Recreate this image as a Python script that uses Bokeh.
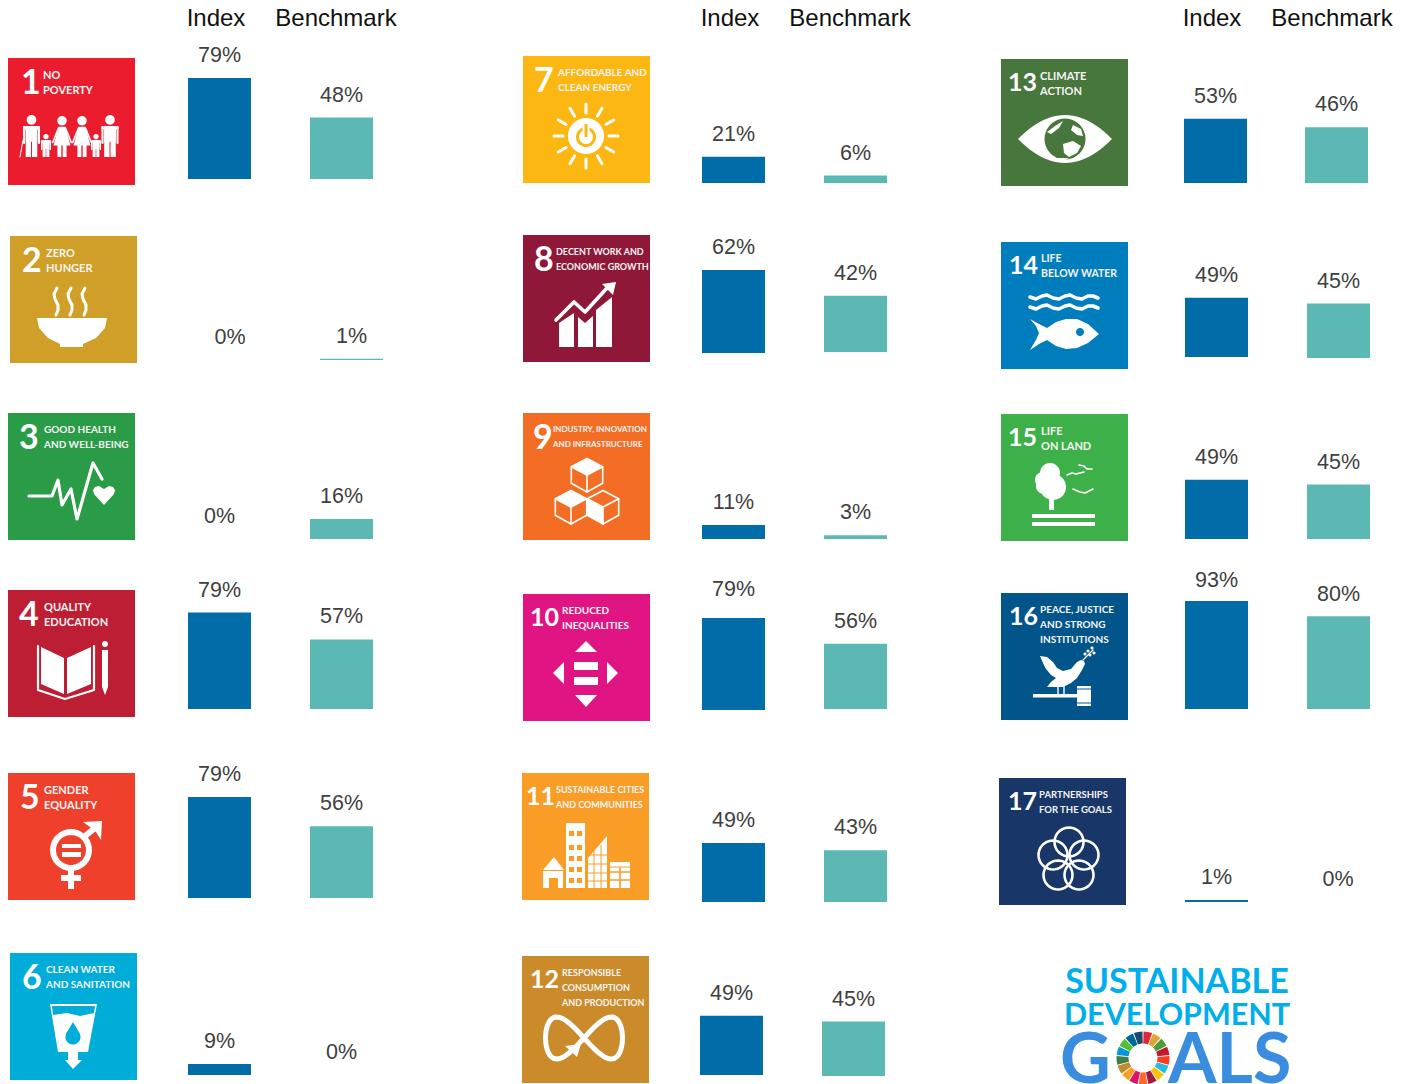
import math
from bokeh.embed import file_html
from bokeh.models import Range1d
from bokeh.plotting import figure
from bokeh.resources import INLINE
from bokeh.core.properties import value

# ---- chart values -------------------------------------------------------
goal_numbers = list(range(1, 18))
goal_titles = [
    ["NO", "POVERTY"], ["ZERO", "HUNGER"], ["GOOD HEALTH", "AND WELL-BEING"],
    ["QUALITY", "EDUCATION"], ["GENDER", "EQUALITY"], ["CLEAN WATER", "AND SANITATION"],
    ["AFFORDABLE AND", "CLEAN ENERGY"], ["DECENT WORK AND", "ECONOMIC GROWTH"],
    ["INDUSTRY, INNOVATION", "AND INFRASTRUCTURE"], ["REDUCED", "INEQUALITIES"],
    ["SUSTAINABLE CITIES", "AND COMMUNITIES"],
    ["RESPONSIBLE", "CONSUMPTION", "AND PRODUCTION"], ["CLIMATE", "ACTION"],
    ["LIFE", "BELOW WATER"], ["LIFE", "ON LAND"],
    ["PEACE, JUSTICE", "AND STRONG", "INSTITUTIONS"], ["PARTNERSHIPS", "FOR THE GOALS"],
]
index_values = [79, 0, 0, 79, 79, 9, 21, 62, 11, 79, 49, 49, 53, 49, 49, 93, 1]
benchmark_values = [48, 1, 16, 57, 56, 0, 6, 42, 3, 56, 43, 45, 46, 45, 45, 80, 0]
series_names = ["Index", "Benchmark"]

# ---- page layout, in pixels ---------------------------------------------
W, H = 1412, 1084
PIXEL_SHIFT = 0.5
tile_left = [8, 10, 8, 8, 8, 10, 523, 523, 523, 523, 522, 522, 1001, 1001, 1001, 1001, 999]
tile_top = [58, 236, 413, 590, 773, 953, 56, 235, 413, 594, 773, 956, 59, 242, 414, 593, 778]
index_x = [219.5, 230, 219.5, 219.5, 219.5, 219.5, 733.5, 733.5, 733.5, 733.5, 733.5, 731.5,
           1215.5, 1216.5, 1216.5, 1216.5, 1216.5]
bench_x = [341.5, 351.5, 341.5, 341.5, 341.5, 341.5, 855.5, 855.5, 855.5, 855.5, 855.5, 853.5,
           1336.5, 1338.5, 1338.5, 1338.5, 1338]
index_base = [179, 360, 539, 709, 898, 1075, 183, 353, 539, 710, 902, 1075, 183, 357, 539, 709, 902]
bench_base = [179, 360, 539, 709, 898, 1075, 183, 352, 539, 709, 902, 1076, 183, 358, 539, 709, 902]
px_per_pct = [1.28, 1.2, 1.25, 1.22, 1.28, 1.22, 1.25, 1.34, 1.28, 1.165, 1.205, 1.21,
              1.21, 1.21, 1.21, 1.16, 2.0]
index_gap = [23, 23, 23, 23, 23, 23, 23, 23, 23, 29, 23, 23, 23, 23, 23, 21, 23]
bench_gap = [23, 23, 23, 23, 23, 23, 23, 23, 23, 23, 23, 23, 23, 23, 23, 22, 23]
title_x = [35, 36, 36, 36, 36, 36, 35, 33, 30, 39, 34, 40, 39, 40, 40, 39, 40]
title_px = [11, 11, 10, 11, 11, 10, 10, 9, 8, 10, 9, 9, 11, 10.5, 11, 10, 9.5]
number_x = [13, 12, 11, 11, 12, 12, 11, 11, 10, 7, 4, 8, 7, 8, 7, 8, 9]
number_px = [34, 34, 34, 34, 34, 34, 34, 34, 34, 25, 25, 25, 25, 25, 25, 25, 25]
header_x = [(216, 336), (730, 850), (1212, 1332)]

# ---- styles -------------------------------------------------------------
tile_colors = ["#EB1C2D", "#CF9F27", "#2A9B47", "#BE1E33", "#EF402B", "#00ADD8", "#FDB713",
               "#8F1838", "#F36D25", "#E01483", "#F99D26", "#CB8B2A", "#48773E", "#007DBC",
               "#3EB049", "#02558B", "#183668"]
wheel_colors = ["#E5243B", "#DDA63A", "#4C9F38", "#C5192D", "#FF3A21", "#26BDE2", "#FCC30B",
                "#A21942", "#FD6925", "#DD1367", "#FD9D24", "#BF8B2E", "#3F7E44", "#0A97D9",
                "#56C02B", "#00689D", "#19486A"]
INDEX_COLOR, BENCH_COLOR = "#006CA8", "#5CB8B2"
WHITE = "#FFFFFF"
SANS = value("Liberation Sans")
TILE_FONT = value("Lato")

p = figure(width=W, height=H, x_range=Range1d(PIXEL_SHIFT, W + PIXEL_SHIFT),
           y_range=Range1d(H + PIXEL_SHIFT, PIXEL_SHIFT),
           x_axis_type=None, y_axis_type=None, toolbar_location=None,
           output_backend="svg", min_border=0, outline_line_color=None)
p.grid.visible = False


class Tile:
    """Drawing helpers in coordinates local to a goal tile (127 units wide)."""

    def __init__(self, ox, oy, color):
        self.ox, self.oy, self.color = ox, oy, color

    def poly(self, pts, color=WHITE):
        p.patch([self.ox + a for a, _ in pts], [self.oy + b for _, b in pts],
                fill_color=color, line_color=None)

    def line(self, pts, w=3.0, color=WHITE, cap="round"):
        p.line([self.ox + a for a, _ in pts], [self.oy + b for _, b in pts],
               line_color=color, line_width=w, line_cap=cap, line_join="round")

    def rect(self, x0, y0, x1, y1, color=WHITE):
        self.poly([(x0, y0), (x1, y0), (x1, y1), (x0, y1)], color)

    def disc(self, cx, cy, r, color=WHITE):
        self.poly(circle_pts(cx, cy, r), color)

    def ring(self, cx, cy, r, w, color=WHITE):
        self.line(circle_pts(cx, cy, r) + [(cx + r, cy)], w, color)


def circle_pts(cx, cy, r, n=40):
    return [(cx + r * math.cos(2 * math.pi * i / n), cy + r * math.sin(2 * math.pi * i / n))
            for i in range(n)]


def man(d, cx, top, h, w):
    r = h * 0.115
    d.disc(cx, top + r, r)
    y0 = top + 2.2 * r + 0.5
    d.rect(cx - w * 0.5, y0, cx + w * 0.5, y0 + 3)
    d.rect(cx - w * 0.34, y0, cx + w * 0.34, y0 + (h - 2.2 * r) * 0.5)
    d.rect(cx - w * 0.34, y0, cx - w * 0.03, top + h)
    d.rect(cx + w * 0.03, y0, cx + w * 0.34, top + h)
    d.line([(cx - w * 0.44, y0 + 1), (cx - w * 0.44, y0 + h * 0.4)], w * 0.12)
    d.line([(cx + w * 0.44, y0 + 1), (cx + w * 0.44, y0 + h * 0.4)], w * 0.12)


def woman(d, cx, top, h, w):
    r = h * 0.115
    d.disc(cx, top + r, r)
    y0 = top + 2.2 * r + 0.5
    d.poly([(cx - w * 0.2, y0), (cx + w * 0.2, y0), (cx + w * 0.5, top + h * 0.72), (cx - w * 0.5, top + h * 0.72)])
    d.line([(cx - w * 0.2, y0 + 1), (cx - w * 0.55, y0 + h * 0.38)], 1.6)
    d.line([(cx + w * 0.2, y0 + 1), (cx + w * 0.55, y0 + h * 0.38)], 1.6)
    d.rect(cx - w * 0.27, top + h * 0.7, cx - w * 0.04, top + h)
    d.rect(cx + w * 0.04, top + h * 0.7, cx + w * 0.27, top + h)


def pic_1(d):
    man(d, 23.5, 57, 42, 17)
    d.line([(15, 82), (12, 99)], 1)
    man(d, 38, 76, 23, 10)
    woman(d, 54, 58, 41, 17)
    woman(d, 74, 58, 41, 17)
    man(d, 88, 76, 23, 10)
    man(d, 102, 57, 42, 17)


def pic_2(d):
    d.poly([(27, 82), (97, 82), (95, 92), (86, 102), (73, 108), (73, 111), (50, 111), (50, 108), (38, 102), (29, 92)])
    for x in (45, 59, 73):
        d.line([(x + 2, 52), (x - 1, 58), (x, 63), (x + 3, 69), (x + 3, 74), (x + 1, 79)], 3)


def pic_3(d):
    d.line([(21, 83), (44, 83), (50, 67), (54, 92), (63, 76), (69, 106), (85, 50), (94, 66)], 3.2)
    d.poly([(96, 92), (86, 81), (85, 77), (87, 74), (91, 73), (96, 76), (101, 73), (105, 74), (107, 77), (106, 81)])


def pic_4(d):
    d.poly([(33, 57), (56, 68), (56, 104), (33, 94)])
    d.poly([(59, 68), (83, 57), (83, 94), (59, 104)])
    d.line([(30, 56), (30, 100), (57, 109), (86, 100), (86, 56)], 2.2)
    d.disc(97, 54, 3)
    d.poly([(94, 60), (100, 60), (100, 97), (97, 105), (94, 97)])


def pic_5(d):
    d.ring(63, 77, 18, 6)
    d.rect(54, 71, 73, 75)
    d.rect(54, 79, 73, 84)
    d.line([(76, 64), (88, 54)], 6, cap="butt")
    d.poly([(75, 49), (94, 48), (93, 67), (88, 59), (82, 54)])
    d.rect(60, 95, 66, 116)
    d.rect(53, 102, 73, 108)


def pic_6(d, ):
    d.poly([(40, 51), (87, 51), (78, 99), (48, 99)])
    d.poly([(42, 53), (85, 53), (84, 60), (70, 63), (57, 60), (43, 62)], d.color)
    d.disc(63, 84, 7.5, d.color)
    d.poly([(63, 69), (69.5, 80), (56.5, 80)], d.color)
    d.rect(58, 98, 68, 107)
    d.poly([(55, 107), (72, 107), (63, 116)])


def pic_7(d):
    cx, cy = 63, 80
    d.disc(cx, cy, 18)
    for i in range(12):
        a = 2 * math.pi * i / 12
        d.line([(cx + 23 * math.cos(a), cy + 23 * math.sin(a)),
                (cx + 32 * math.cos(a), cy + 32 * math.sin(a))], 3)
    d.ring(cx, cy + 1, 8.5, 3, d.color)
    d.rect(cx - 3.5, cy - 12, cx + 3.5, cy - 4)
    d.rect(cx - 1.5, cy - 12, cx + 1.5, cy + 1, d.color)


def pic_8(d):
    d.poly([(36, 88), (51, 78), (51, 112), (36, 112)])
    d.poly([(55, 82), (62, 88), (70, 81), (70, 112), (55, 112)])
    d.poly([(73, 75), (89, 62), (89, 112), (73, 112)])
    d.line([(33, 85), (51, 67), (62, 77), (84, 53)], 3.6)
    d.poly([(79, 49), (93, 47), (90, 60)])


def pic_9(d):
    s = 16
    dx = s * 0.98
    dy = s * 0.52

    def cube(cx, cy, face):
        top = (cx, cy - s - 0.5)
        ur, lr = (cx + dx, cy - dy), (cx + dx, cy + dy)
        bot = (cx, cy + s + 1)
        ll, ul = (cx - dx, cy + dy), (cx - dx, cy - dy)
        if face == "top":
            d.poly([top, ur, (cx, cy), ul])
        else:
            d.poly([ul, (cx, cy), bot, ll])
        d.line([top, ur, lr, bot, ll, ul, top], 1.6)
        d.line([ul, (cx, cy), ur], 1.6)
        d.line([(cx, cy), bot], 1.6)

    cube(64, 62, "top")
    cube(48, 94, "top")
    cube(80, 94, "left")


def pic_10(d):
    d.poly([(52, 58), (74, 58), (63, 47)])
    d.poly([(52, 101), (74, 101), (63, 113)])
    d.poly([(41, 68), (41, 90), (30, 79)])
    d.poly([(84, 68), (84, 90), (95, 79)])
    d.rect(51, 68, 75, 76)
    d.rect(51, 83, 75, 91)


def pic_11(d):
    d.poly([(21, 97), (32, 84), (42, 97)])
    d.rect(21, 98, 41, 115)
    d.rect(27, 105, 36, 115, d.color)
    d.rect(44, 50, 63, 115)
    for y in (58, 72, 83, 94, 105):
        d.rect(47, y, 52, y + 5, d.color)
        d.rect(55, y, 60, y + 5, d.color)
    d.poly([(66, 115), (66, 85), (85, 63), (85, 115)])
    for y in (82, 91, 100, 108):
        d.line([(66, y), (85, y)], 1, d.color)
    for x in (72, 79):
        d.line([(x, 78 if x == 72 else 72), (x, 115)], 1, d.color)
    d.rect(88, 89, 108, 115)
    d.line([(88, 94), (108, 94)], 1, d.color)
    for y in (99, 107):
        d.line([(88, y), (108, y)], 1.6, d.color)
    d.line([(98, 95), (98, 115)], 1.6, d.color)


def pic_12(d):
    pts = []
    for i in range(0, 73):
        t = 2 * math.pi * i / 72 + 0.55
        pts.append((62 + 38.5 * math.cos(t), 82 + 42 * math.sin(t) * math.cos(t)))
    d.line(pts, 5)
    d.poly([(43, 90), (59, 88), (55, 101)])


def pic_13(d):
    top = [(17 + i * 94 / 24, 80 - 24 * (1 - ((i - 12) / 12) ** 2)) for i in range(25)]
    bottom = [(111 - i * 94 / 24, 80 + 24 * (1 - ((12 - i) / 12) ** 2)) for i in range(25)]
    d.poly(top + bottom)
    d.disc(64, 80, 20.5, d.color)
    d.poly([(46, 73), (54, 67), (62, 62), (58, 69), (50, 75)])
    d.poly([(62, 85), (72, 82), (80, 87), (76, 94), (68, 98), (63, 94)])
    d.poly([(72, 66), (80, 70), (82, 77), (76, 76), (70, 71)])
    d.poly([(56, 99), (68, 99), (62, 102)])


def pic_14(d):
    for y in (55, 65):
        d.line([(29, y), (35, y + 2), (41, y - 1), (46, y - 2), (52, y + 1), (58, y + 2), (64, y - 1),
                (69, y - 2), (75, y + 1), (81, y + 2), (87, y - 1), (92, y - 1), (97, y + 1)], 3.6)
    d.poly([(29, 77), (38, 82), (46, 86), (55, 80), (65, 77), (76, 77), (87, 82), (98, 92), (87, 101), (76, 106),
            (65, 107), (55, 104), (46, 98), (38, 102), (29, 108), (35, 98), (38, 91), (35, 84)])
    d.disc(79, 90, 4, d.color)


def pic_15(d):
    for cx, cy, r in ((49, 59, 10), (42, 66, 8), (52, 73, 13), (43, 72, 8)):
        d.disc(cx, cy, r)
    d.rect(48, 82, 53, 96)
    d.rect(31, 100, 94, 104)
    d.rect(31, 108, 94, 112)
    for pts in ([(66, 61), (71, 59), (75, 60), (83, 58)],
                [(78, 51), (83, 52), (86, 55), (91, 55)],
                [(72, 75), (79, 78), (84, 79), (92, 75)]):
        d.line(pts, 1.6)


def pic_16(d):
    d.poly([(39, 63), (46, 64), (52, 69), (56, 75), (62, 78), (70, 76), (76, 69), (80, 67), (83, 68), (84, 71),
            (81, 77), (76, 85), (70, 90), (62, 94), (52, 94), (46, 94), (50, 89), (55, 85), (50, 82), (45, 76), (42, 70)])
    d.line([(57, 93), (57, 102)], 1.4)
    d.line([(63, 93), (63, 102)], 1.4)
    d.line([(82, 67), (92, 57)], 1.2)
    for x, y in ((84, 61), (87, 58), (91, 55), (89, 62), (93, 60)):
        d.disc(x, y, 1.5)
    d.rect(32, 101, 77, 104.5)
    d.rect(76, 93, 90, 113)
    d.line([(76, 96), (90, 96)], 1, d.color)
    d.line([(76, 110), (90, 110)], 1, d.color)


def pic_17(d):
    for cx, cy in ((70, 64), (54, 77), (85, 77), (59, 97), (80, 97)):
        d.ring(cx, cy, 14.5, 2.6)


pictograms = [pic_1, pic_2, pic_3, pic_4, pic_5, pic_6, pic_7, pic_8, pic_9, pic_10, pic_11, pic_12,
              pic_13, pic_14, pic_15, pic_16, pic_17]

# ---- goal tiles ---------------------------------------------------------
for i, n in enumerate(goal_numbers):
    x0, y0 = tile_left[i], tile_top[i]
    p.quad(left=[x0], right=[x0 + 127], top=[y0], bottom=[y0 + 127],
           fill_color=tile_colors[i], line_color=None)
    tile = Tile(x0, y0, tile_colors[i])
    pictograms[i](tile)
    p.text(x=[x0 + number_x[i]], y=[y0 + 23], text=[str(n)], text_font=TILE_FONT,
           text_font_style="bold", text_font_size=f"{number_px[i]}px", text_color=WHITE,
           text_align="left", text_baseline="middle")
    for j, row in enumerate(goal_titles[i]):
        p.text(x=[x0 + title_x[i]], y=[y0 + 16 + j * 15], text=[row], text_font=TILE_FONT,
               text_font_style="bold", text_font_size=f"{title_px[i]}px", text_color="#F4F4F4",
               text_align="left", text_baseline="middle")

# ---- bars and their value labels, one percent scale per series per goal --
for i, n in enumerate(goal_numbers):
    rows = ((f"g{n}i", index_values[i], index_x[i], index_base[i], index_gap[i], INDEX_COLOR),
            (f"g{n}b", benchmark_values[i], bench_x[i], bench_base[i], bench_gap[i], BENCH_COLOR))
    for name, val, cx, base, gap, color in rows:
        s = px_per_pct[i]
        zero = base - PIXEL_SHIFT
        p.extra_y_ranges[name] = Range1d(start=(zero - H) / s, end=zero / s)
        if val > 0:
            p.vbar(x=[cx], top=[val], bottom=[0], width=63, fill_color=color, line_color=None,
                   y_range_name=name)
        p.text(x=[cx], y=[val], text=[f"{val}%"], text_font=SANS, text_font_size="21.5px",
               text_color="#404040", text_align="center", text_baseline="middle",
               y_offset=-gap, y_range_name=name)

# ---- column headers -----------------------------------------------------
for pair in header_x:
    for x, label in zip(pair, series_names):
        p.text(x=[x], y=[17.5], text=[label], text_font=SANS, text_font_size="24px", text_color="#111111",
               text_align="center", text_baseline="middle")

# ---- programme logo in the last cell -------------------------------------
logo = Tile(1000, 930, "#FFFFFF")
p.text(x=[1177], y=[979], text=["SUSTAINABLE"], text_font=TILE_FONT, text_font_style="bold",
       text_font_size="34px", text_color="#00AEEA", text_align="center", text_baseline="middle")
p.text(x=[1177], y=[1013], text=["DEVELOPMENT"], text_font=TILE_FONT, text_font_style="bold",
       text_font_size="30.5px", text_color="#00AEEA", text_align="center", text_baseline="middle")
p.text(x=[1060], y=[1056], text=["G"], text_font=TILE_FONT, text_font_style="bold", text_font_size="70px",
       text_color="#3A8DDE", text_align="left", text_baseline="middle")
p.text(x=[1168], y=[1056], text=["ALS"], text_font=TILE_FONT, text_font_style="bold", text_font_size="70px",
       text_color="#3A8DDE", text_align="left", text_baseline="middle")
wcx, wcy, r_out, r_in = 143, 128, 26.5, 14.5
for k, color in enumerate(wheel_colors):
    a0 = -math.pi / 2 + 2 * math.pi * k / 17 + 0.02
    a1 = -math.pi / 2 + 2 * math.pi * (k + 1) / 17 - 0.02
    arc = [a0 + (a1 - a0) * t / 4 for t in range(5)]
    outer = [(wcx + r_out * math.cos(a), wcy + r_out * math.sin(a)) for a in arc]
    inner = [(wcx + r_in * math.cos(a), wcy + r_in * math.sin(a)) for a in reversed(arc)]
    logo.poly(outer + inner, color)

open("out.html", "w").write(file_html(p, INLINE))
